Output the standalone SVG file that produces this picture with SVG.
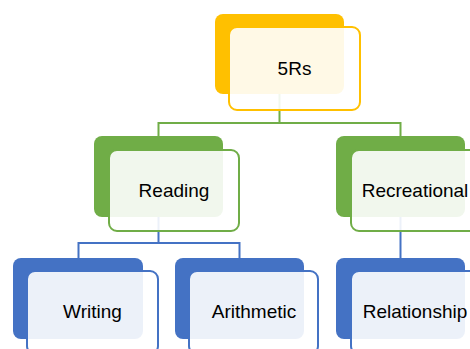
<svg xmlns="http://www.w3.org/2000/svg" width="470" height="349" viewBox="0 0 470 349">
<style>
.lbl{font-family:"Liberation Sans",Arial,sans-serif;font-size:19px;fill:#000;text-anchor:middle}
.front{fill:#fff;fill-opacity:0.9;stroke-width:2}
.or .back{fill:#FFC000}.or .front{stroke:#FFC000}
.gr .back{fill:#70AD47}.gr .front{stroke:#70AD47}
.bl .back{fill:#4472C4}.bl .front{stroke:#4472C4}
.cg{fill:none;stroke:#70AD47;stroke-width:2}
.cb{fill:none;stroke:#4472C4;stroke-width:2}
</style>
<rect width="470" height="349" fill="#fff"/>
<g id="connectors">
<path class="cg" d="M279.5,94 V123 M158.5,136 V123 H400.5 V136"/>
<path class="cb" d="M158.5,217 V243 M78.5,258 V243 H239.5 V258"/>
<path class="cb" d="M400.5,217 V258"/>
</g>
<g id="n5Rs" class="or">
<rect class="back" x="215" y="14" width="129" height="80" rx="8"/>
<rect class="front" x="229" y="27" width="131" height="83" rx="8"/>
<text class="lbl" x="294.5" y="75">5Rs</text>
</g>
<g id="nReading" class="gr">
<rect class="back" x="94" y="136" width="129" height="81" rx="8"/>
<rect class="front" x="109" y="150" width="130" height="81" rx="8"/>
<text class="lbl" x="174" y="197">Reading</text>
</g>
<g id="nRecreational" class="gr">
<rect class="back" x="336" y="136" width="129" height="81" rx="8"/>
<rect class="front" x="351" y="150" width="130" height="81" rx="8"/>
<text class="lbl" x="415" y="197">Recreational</text>
</g>
<g id="nWriting" class="bl">
<rect class="back" x="13" y="258" width="130" height="81" rx="8"/>
<rect class="front" x="27" y="271" width="131" height="83" rx="8"/>
<text class="lbl" x="92.5" y="318">Writing</text>
</g>
<g id="nArithmetic" class="bl">
<rect class="back" x="175" y="258" width="129" height="81" rx="8"/>
<rect class="front" x="189" y="271" width="129" height="83" rx="8"/>
<text class="lbl" x="254" y="318">Arithmetic</text>
</g>
<g id="nRelationship" class="bl">
<rect class="back" x="336" y="258" width="129" height="81" rx="8"/>
<rect class="front" x="351" y="271" width="130" height="83" rx="8"/>
<text class="lbl" x="415" y="318">Relationship</text>
</g>
</svg>
